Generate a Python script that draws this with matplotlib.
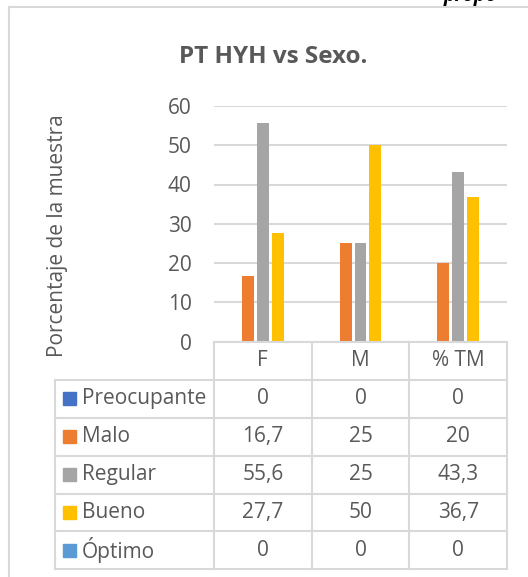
import matplotlib
matplotlib.use('Agg')
import matplotlib.pyplot as plt
from matplotlib.patches import Rectangle

plt.rcParams['font.family'] = ['Open Sans', 'DejaVu Sans']

# data
categories = ['F', 'M', '% TM']
series = ['Preocupante', 'Malo', 'Regular', 'Bueno', 'Óptimo']
preocupante = [0, 0, 0]
malo = [16.7, 25, 20]
regular = [55.6, 25, 43.3]
bueno = [27.7, 50, 36.7]
optimo = [0, 0, 0]
values = [preocupante, malo, regular, bueno, optimo]
colors = ['#4472C4', '#ED7D31', '#A5A5A5', '#FFC000', '#5B9BD5']
yticks = [0, 10, 20, 30, 40, 50, 60]

txt = '#595959'
grid = '#D9D9D9'
fs = 15
W, H = 528, 577

fig = plt.figure(figsize=(W / 100, H / 100), dpi=100)


def fx(px):
    return px / W


def fy(py):
    return 1 - py / H


# outer chart border (left and top visible)
fig.add_artist(plt.Line2D([fx(9), fx(9)], [fy(7), 0], color=grid, lw=1.5))
fig.add_artist(plt.Line2D([fx(9), 1], [fy(7), fy(7)], color=grid, lw=1.5))

# caption above the chart, cut off by the page
for x, s in [(22, 'ento'), (222, 'sobre'), (444, 'propo')]:
    fig.text(fx(x), fy(0.5), s, fontsize=14, fontweight='bold', fontstyle='italic',
             color='black', va='baseline', ha='left')

# bar chart
ax = fig.add_axes([fx(214), fy(341.5), fx(507) - fx(214), fy(106) - fy(341.5)])
step = 0.1525
width = 0.121
for i, (name, vals, c) in enumerate(zip(series, values, colors)):
    xs = [k + (i - 2) * step for k in range(len(categories))]
    ax.bar(xs, vals, width=width, color=c, zorder=3)
ax.set_xlim(-0.5, len(categories) - 0.5)
ax.set_ylim(0, 60)
ax.set_yticks(yticks)
ax.yaxis.grid(True, color=grid, lw=1.5, zorder=0)
ax.set_xticks([])
ax.tick_params(axis='y', length=0, pad=16, labelsize=fs, labelcolor=txt)
for sp in ax.spines.values():
    sp.set_visible(False)

fig.text(fx(58), fy(236), 'Porcentaje de la muestra', rotation=90,
         ha='center', va='center', fontsize=fs, color=txt)
fig.text(fx(273), fy(62.7), 'PT HYH vs Sexo.', ha='center', va='baseline',
         fontsize=17.5, fontweight='bold', color=txt)

# data table below the axis
left_px = 55
ncat = len(categories)
xl = -(214 - left_px) / 97.7
tab = fig.add_axes([fx(left_px), fy(569.3), fx(507) - fx(left_px), fy(342) - fy(569.3)])
tab.set_xlim(xl, ncat)
tab.set_ylim(len(series) + 1, 0)
tab.axis('off')
lk = dict(color=grid, lw=1.5, clip_on=False)
tab.plot([0, ncat], [0, 0], **lk)
for r in range(1, len(series) + 2):
    tab.plot([xl, ncat], [r, r], **lk)
for c in range(ncat + 1):
    tab.plot([c, c], [0, len(series) + 1], **lk)
tab.plot([xl, xl], [1, len(series) + 1], **lk)

for k, cat in enumerate(categories):
    tab.text(k + 0.5, 0.5, cat, ha='center', va='center', fontsize=fs, color=txt)


def fmt(v):
    return str(int(v)) if float(v).is_integer() else f'{v:.1f}'.replace('.', ',')


sq_w = 13 / 97.7
sq_h = 13 / 37.9
for i, (name, vals, c) in enumerate(zip(series, values, colors)):
    r = i + 1
    tab.add_patch(Rectangle((xl + 8 / 97.7, r + 0.5 - sq_h / 2), sq_w, sq_h,
                            color=c, clip_on=False))
    tab.text(xl + 27 / 97.7, r + 0.5, name, ha='left', va='center', fontsize=fs, color=txt)
    for k, v in enumerate(vals):
        tab.text(k + 0.5, r + 0.5, fmt(v), ha='center', va='center', fontsize=fs, color=txt)

fig.savefig('out.png', dpi=100)
